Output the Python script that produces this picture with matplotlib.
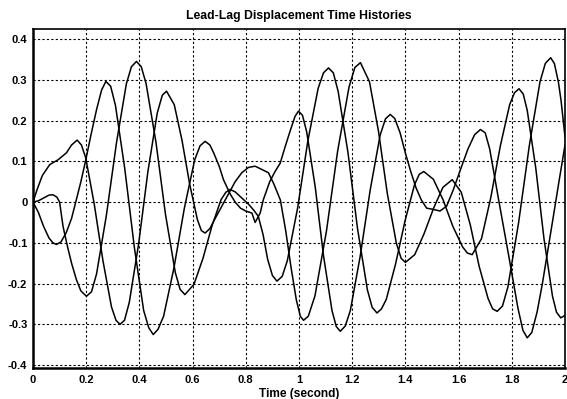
import matplotlib
matplotlib.use("Agg")
import matplotlib.pyplot as plt

# Curve X (traced)
t_x = [0.000, 0.020, 0.040, 0.060, 0.075, 0.088, 0.105, 0.125, 0.145, 0.163, 0.180, 0.197, 0.218, 0.239, 0.258, 0.274,
       0.292, 0.310, 0.345, 0.381, 0.416, 0.435, 0.452, 0.470, 0.491, 0.530, 0.569, 0.608, 0.628, 0.647,
       0.665, 0.679, 0.700, 0.716, 0.741, 0.760, 0.780, 0.800, 0.823, 0.835, 0.854, 0.866, 0.890, 0.910, 0.929,
       0.950, 0.967, 0.985, 0.998, 1.013, 1.029, 1.061, 1.092, 1.124, 1.140, 1.155,
       1.174, 1.193, 1.230, 1.268, 1.305, 1.325, 1.343, 1.360, 1.380, 1.400, 1.420, 1.440, 1.460, 1.480,
       1.505, 1.530, 1.555, 1.580, 1.610, 1.635, 1.660, 1.682, 1.700, 1.717, 1.752, 1.788, 1.823, 1.842,
       1.858, 1.875, 1.895, 1.915, 1.935, 1.955, 1.976, 2.000]
y_x = [0.000, -0.025, -0.060, -0.088, -0.100, -0.104, -0.098, -0.075, -0.040, 0.006, 0.050, 0.099, 0.165, 0.227, 0.275, 0.296,
       0.284, 0.237, 0.082, -0.111, -0.266, -0.308, -0.325, -0.312, -0.280, -0.161, -0.015, 0.104, 0.138, 0.149,
       0.140, 0.121, 0.088, 0.055, 0.020, 0.000, -0.015, -0.022, -0.027, -0.050, -0.027, 0.006, 0.050, 0.075, 0.095,
       0.140, 0.175, 0.210, 0.223, 0.213, 0.172, 0.037, -0.131, -0.266, -0.305, -0.317,
       -0.304, -0.266, -0.133, 0.031, 0.164, 0.204, 0.215, 0.205, 0.170, 0.120, 0.075, 0.035, 0.005, -0.015,
       -0.018, -0.022, -0.010, 0.030, 0.085, 0.130, 0.165, 0.178, 0.170, 0.130, 0.000, -0.130, -0.260, -0.315,
       -0.333, -0.320, -0.270, -0.200, -0.120, -0.040, 0.045, 0.140]

# Curve Y (traced)
t_y = [0.000, 0.015, 0.035, 0.063, 0.095, 0.126, 0.145, 0.166, 0.182, 0.198, 0.230, 0.263, 0.295, 0.312, 0.327,
       0.344, 0.362, 0.397, 0.432, 0.467, 0.486, 0.502, 0.531, 0.560, 0.589, 0.618, 0.633, 0.647,
       0.665, 0.685, 0.710, 0.735, 0.760, 0.785, 0.810, 0.835, 0.860, 0.885, 0.905, 0.930, 0.950, 0.970, 0.990, 1.005, 1.017,
       1.035, 1.060, 1.103, 1.145, 1.188, 1.210, 1.231, 1.265, 1.299, 1.332, 1.366, 1.384, 1.400,
       1.435, 1.470, 1.506, 1.541, 1.576, 1.610, 1.644, 1.677, 1.711, 1.728, 1.745,
       1.765, 1.785, 1.825, 1.866, 1.906, 1.926, 1.946, 1.960, 1.975, 1.985, 2.000]
y_y = [0.000, 0.030, 0.065, 0.092, 0.104, 0.121, 0.140, 0.152, 0.140, 0.109, -0.004, -0.144, -0.257, -0.290, -0.300,
       -0.290, -0.246, -0.103, 0.075, 0.218, 0.262, 0.272, 0.239, 0.152, 0.044, -0.043, -0.070, -0.076,
       -0.065, -0.040, -0.010, 0.020, 0.050, 0.072, 0.085, 0.088, 0.080, 0.072, 0.045, 0.005, -0.070, -0.160, -0.240, -0.280, -0.290,
       -0.280, -0.230, -0.072, 0.124, 0.282, 0.330, 0.342, 0.295, 0.173, 0.021, -0.101, -0.138, -0.148,
       -0.129, -0.078, -0.015, 0.036, 0.055, 0.024, -0.056, -0.157, -0.237, -0.262, -0.268,
       -0.255, -0.209, -0.053, 0.139, 0.295, 0.340, 0.354, 0.340, 0.295, 0.250, 0.160]

# Curve Z (traced)
t_z = [0.000, 0.020, 0.040, 0.060, 0.075, 0.090, 0.100, 0.113, 0.130, 0.145, 0.163, 0.180, 0.201,
       0.220, 0.239, 0.276, 0.314, 0.351, 0.370, 0.389, 0.407, 0.425, 0.462, 0.498, 0.535, 0.553, 0.571,
       0.605, 0.639, 0.673, 0.707, 0.725, 0.741, 0.760, 0.785, 0.810, 0.830, 0.847, 0.865, 0.882, 0.900, 0.917,
       0.937, 0.956, 0.995, 1.033, 1.072, 1.092, 1.111, 1.129, 1.147, 1.184, 1.220, 1.257, 1.275, 1.293,
       1.310, 1.328, 1.363, 1.399, 1.434, 1.452, 1.469, 1.505, 1.542, 1.578, 1.615, 1.633, 1.651,
       1.686, 1.721, 1.757, 1.792, 1.810, 1.827, 1.843, 1.858, 1.890, 1.921, 1.953, 1.968, 1.984, 2.000]
y_z = [0.000, 0.003, 0.010, 0.017, 0.018, 0.012, 0.000, -0.060, -0.110, -0.150, -0.190, -0.218, -0.231,
       -0.220, -0.176, -0.032, 0.146, 0.290, 0.332, 0.345, 0.332, 0.291, 0.148, -0.030, -0.173, -0.214, -0.227,
       -0.202, -0.138, -0.058, 0.006, 0.024, 0.031, 0.025, 0.010, -0.005, -0.020, -0.035, -0.080, -0.140, -0.180, -0.194,
       -0.182, -0.144, -0.014, 0.149, 0.279, 0.317, 0.329, 0.317, 0.272, 0.122, -0.065, -0.215, -0.258, -0.272,
       -0.262, -0.239, -0.152, -0.045, 0.042, 0.068, 0.075, 0.056, 0.005, -0.059, -0.110, -0.125, -0.129,
       -0.090, 0.011, 0.138, 0.239, 0.268, 0.278, 0.265, 0.225, 0.084, -0.090, -0.231, -0.270, -0.284, -0.278]

x_ticks = [0, 0.2, 0.4, 0.6, 0.8, 1.0, 1.2, 1.4, 1.6, 1.8, 2.0]
x_ticklabels = ["0", "0.2", "0.4", "0.6", "0.8", "1", "1.2", "1.4", "1.6", "1.8", "2"]
y_ticks = [-0.4, -0.3, -0.2, -0.1, 0, 0.1, 0.2, 0.3, 0.4]
y_ticklabels = ["-0.4", "-0.3", "-0.2", "-0.1", "0", "0.1", "0.2", "0.3", "0.4"]

plt.rcParams['font.family'] = ['Liberation Sans', 'DejaVu Sans']

fig = plt.figure(figsize=(5.67, 3.99), dpi=100)
ax = fig.add_axes([33 / 567, 1 - 368 / 399, (565 - 33) / 567, (368 - 29) / 399])

for tt, yy in ((t_x, y_x), (t_y, y_y), (t_z, y_z)):
    ax.plot(tt, yy, color='black', linewidth=1.1)

ax.set_xlim(0, 2)
ax.set_ylim(-0.407, 0.4245)
ax.set_xticks(x_ticks)
ax.set_xticklabels(x_ticklabels, fontsize=8, fontweight='bold')
ax.set_yticks(y_ticks)
ax.set_yticklabels(y_ticklabels, fontsize=8, fontweight='bold')
ax.tick_params(axis='y', direction='in', length=0, pad=4)
ax.tick_params(axis='x', direction='in', length=0, pad=5)
ax.grid(True, color='black', linestyle=(0, (2, 2)), linewidth=0.8)
for s in ax.spines.values():
    s.set_linewidth(1.2)
    s.set_color('black')
ax.spines['left'].set_linewidth(1.8)
ax.spines['bottom'].set_linewidth(1.8)

ax.set_title("Lead-Lag Displacement Time Histories", fontsize=8.8, fontweight='bold', pad=7)
ax.set_xlabel("Time (second)", fontsize=8.6, fontweight='bold', labelpad=2)

fig.savefig("out.png", dpi=100)
